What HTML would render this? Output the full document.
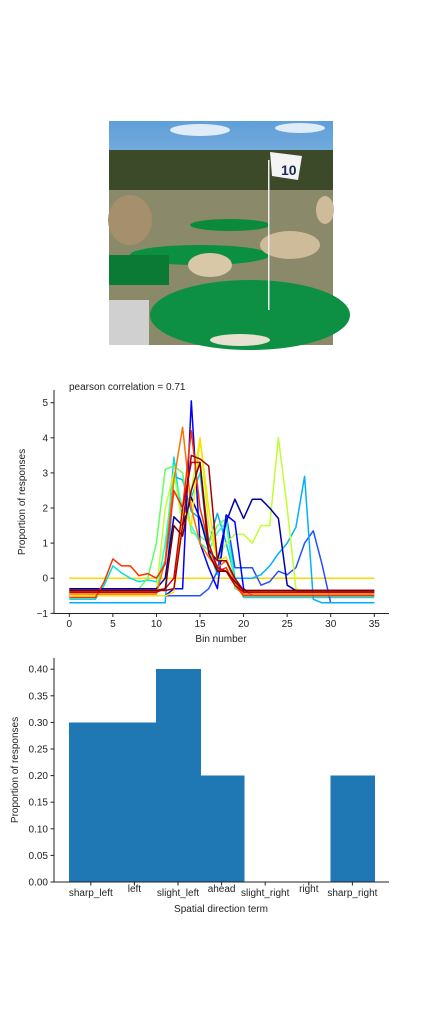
<!DOCTYPE html>
<html><head><meta charset="utf-8">
<style>
html,body{margin:0;padding:0;background:#fff;}
svg text{font-family:"Liberation Sans","DejaVu Sans",sans-serif;fill:#222;}
</style></head>
<body>
<svg id="root" width="432" height="1008" viewBox="0 0 432 1008" xmlns="http://www.w3.org/2000/svg">
<defs>
<linearGradient id="sky" x1="0" y1="0" x2="0" y2="1"><stop offset="0" stop-color="#5f9fd8"/><stop offset="1" stop-color="#eef4fa"/></linearGradient>
</defs>
<g>
<rect x="109" y="121" width="224" height="224" fill="url(#sky)"/>
<ellipse cx="200" cy="130" rx="30" ry="6" fill="#ffffff" opacity="0.8"/>
<ellipse cx="300" cy="128" rx="25" ry="5" fill="#ffffff" opacity="0.8"/>
<rect x="109" y="150" width="224" height="50" fill="#3c4a2a"/>
<rect x="109" y="190" width="224" height="155" fill="#8a8a6a"/>
<ellipse cx="230" cy="225" rx="40" ry="6" fill="#0a8a3a"/>
<ellipse cx="200" cy="255" rx="70" ry="10" fill="#0b8f40"/>
<rect x="109" y="255" width="60" height="30" fill="#0a7a35"/>
<ellipse cx="250" cy="315" rx="100" ry="35" fill="#0d9043"/>
<rect x="109" y="300" width="40" height="45" fill="#d0d0d0"/>
<ellipse cx="210" cy="265" rx="22" ry="12" fill="#d8c8a8"/>
<ellipse cx="290" cy="245" rx="30" ry="14" fill="#cdbb9a"/>
<ellipse cx="130" cy="220" rx="22" ry="25" fill="#a58f6c"/>
<ellipse cx="325" cy="210" rx="9" ry="14" fill="#cdbb9a"/>
<rect x="268" y="160" width="1.5" height="150" fill="#eee"/>
<polygon points="270,152 302,156 298,180 272,176" fill="#f4f4f4"/>
<text x="281" y="175" font-size="14" font-weight="bold" style="fill:#1a2a5a">10</text>
<ellipse cx="240" cy="340" rx="30" ry="6" fill="#e8e0d0"/>
</g>
<text x="69" y="390" font-size="10">pearson correlation = 0.71</text>
<g id="lineplot"></g>
<g id="barplot"></g>
</svg>
<script>
const bins = [0,5,10,15,20,25,30,35];
const yTicks1 = [-1,0,1,2,3,4,5];
const seriesColors = ["#ffd700","#00e0e0","#2050ff","#00b0ff","#60ff60","#30ffc0","#c0ff30","#0000a0","#0000ff","#ffe000","#ff7000","#ff3000","#d00000","#a00000","#800000"];
const S0 = [0,0,0,0,0,0,0,0,0,0,0,0,0,0,0,0,0,0,0,0,0,0,0,0,0,0,0,0,0,0,0,0,0,0,0,0];
const S1 = [-0.6,-0.6,-0.6,-0.6,-0.2,0.35,0.15,0,-0.1,-0.05,-0.1,0.5,3.45,1.5,2.3,3.0,0.8,0.1,1.7,0,-0.55,-0.55,-0.55,-0.55,-0.55,-0.55,-0.55,-0.55,-0.55,-0.55,-0.55,-0.55,-0.55,-0.55,-0.55,-0.55];
const S2 = [-0.5,-0.5,-0.5,-0.5,-0.5,-0.5,-0.5,-0.5,-0.5,-0.5,-0.5,-0.5,-0.5,-0.5,-0.5,-0.5,-0.3,0.2,1.8,0.3,0.3,0.3,-0.2,-0.1,0.2,0.1,0.3,1.0,1.35,0.4,-0.7,-0.7,-0.7,-0.7,-0.7,-0.7];
const S3 = [-0.7,-0.7,-0.7,-0.7,-0.7,-0.7,-0.7,-0.7,-0.7,-0.7,-0.7,-0.7,2.9,2.8,1.9,1.7,1.0,1.85,1.0,0,0,0,0.1,0.35,0.7,1.0,1.45,2.9,-0.6,-0.7,-0.7,-0.7,-0.7,-0.7,-0.7,-0.7];
const S4 = [-0.3,-0.3,-0.3,-0.3,-0.3,-0.3,-0.3,-0.3,-0.3,0,1.0,3.1,3.2,3.0,1.3,1.2,1.0,1.5,1.7,-0.3,-0.4,-0.4,-0.4,-0.4,-0.4,-0.4,-0.4,-0.4,-0.4,-0.4,-0.4,-0.4,-0.4,-0.4,-0.4,-0.4];
const S5 = [-0.45,-0.45,-0.45,-0.45,-0.45,-0.45,-0.45,-0.45,-0.45,-0.45,-0.45,1.0,3.0,2.0,1.5,1.0,0.8,1.3,1.6,-0.2,-0.45,-0.45,-0.45,-0.45,-0.45,-0.45,-0.45,-0.45,-0.45,-0.45,-0.45,-0.45,-0.45,-0.45,-0.45,-0.45];
const S6 = [-0.4,-0.4,-0.4,-0.4,-0.4,-0.4,-0.4,-0.4,-0.4,-0.4,-0.4,2.0,3.0,1.5,2.5,4.0,1.5,0.5,1.0,1.25,1.25,1.0,1.5,1.5,4.0,2.0,-0.3,-0.4,-0.4,-0.4,-0.4,-0.4,-0.4,-0.4,-0.4,-0.4];
const S7 = [-0.3,-0.3,-0.3,-0.3,-0.3,-0.3,-0.3,-0.3,-0.3,-0.3,-0.3,0,1.75,1.5,2.3,1.7,0.8,0.5,1.6,2.25,1.7,2.25,2.25,2.0,1.7,-0.2,-0.35,-0.35,-0.35,-0.35,-0.35,-0.35,-0.35,-0.35,-0.35,-0.35];
const S8 = [-0.5,-0.5,-0.5,-0.5,-0.5,-0.5,-0.5,-0.5,-0.5,-0.5,-0.5,-0.5,-0.3,-0.3,5.05,1.0,0.3,-0.3,1.8,1.6,-0.3,-0.5,-0.5,-0.5,-0.5,-0.5,-0.5,-0.5,-0.5,-0.5,-0.5,-0.5,-0.5,-0.5,-0.5,-0.5];
const S9 = [-0.5,-0.5,-0.5,-0.5,-0.5,-0.5,-0.5,-0.5,-0.5,-0.5,-0.5,-0.5,-0.4,2.0,1.5,4.0,2.0,0.5,0.6,-0.1,-0.5,-0.5,-0.5,-0.5,-0.5,-0.5,-0.5,-0.5,-0.5,-0.5,-0.5,-0.5,-0.5,-0.5,-0.5,-0.5];
const S10 = [-0.45,-0.45,-0.45,-0.45,-0.45,-0.45,-0.45,-0.45,-0.45,-0.45,-0.45,0.5,2.8,4.3,2.0,1.0,0.6,0.3,0.5,-0.1,-0.45,-0.45,-0.45,-0.45,-0.45,-0.45,-0.45,-0.45,-0.45,-0.45,-0.45,-0.45,-0.45,-0.45,-0.45,-0.45];
const S11 = [-0.55,-0.55,-0.55,-0.55,-0.1,0.55,0.35,0.35,0.07,0.13,0,0.4,2.5,2.0,4.2,2.0,1.0,0.2,0.3,-0.2,-0.5,-0.5,-0.5,-0.5,-0.5,-0.5,-0.5,-0.5,-0.5,-0.5,-0.5,-0.5,-0.5,-0.5,-0.5,-0.5];
const S12 = [-0.4,-0.4,-0.4,-0.4,-0.4,-0.4,-0.4,-0.4,-0.4,-0.4,-0.4,-0.3,0,2.0,3.3,3.3,1.0,0.3,0.2,-0.2,-0.4,-0.4,-0.4,-0.4,-0.4,-0.4,-0.4,-0.4,-0.4,-0.4,-0.4,-0.4,-0.4,-0.4,-0.4,-0.4];
const S13 = [-0.35,-0.35,-0.35,-0.35,-0.35,-0.35,-0.35,-0.35,-0.35,-0.35,-0.35,-0.35,-0.3,1.5,3.5,3.4,3.2,0.5,0.5,0,-0.35,-0.35,-0.35,-0.35,-0.35,-0.35,-0.35,-0.35,-0.35,-0.35,-0.35,-0.35,-0.35,-0.35,-0.35,-0.35];
const S14 = [-0.35,-0.35,-0.35,-0.35,-0.35,-0.35,-0.35,-0.35,-0.35,-0.35,-0.35,-0.3,1.5,1.2,2.5,3.3,0.7,0.2,0.2,-0.1,-0.35,-0.35,-0.35,-0.35,-0.35,-0.35,-0.35,-0.35,-0.35,-0.35,-0.35,-0.35,-0.35,-0.35,-0.35,-0.35];
const allSeries = [S0,S1,S2,S3,S4,S5,S6,S7,S8,S9,S10,S11,S12,S13,S14];

const categories = ["sharp_left","left","slight_left","ahead","slight_right","right","sharp_right"];
const proportions = [0.3,0.3,0.4,0.2,0,0,0.2];
const yTicks2 = [0,0.05,0.10,0.15,0.20,0.25,0.30,0.35,0.40];

const NS = "http://www.w3.org/2000/svg";
function mk(parent, tag, attrs){const e=document.createElementNS(NS,tag);for(const k in attrs)e.setAttribute(k,attrs[k]);parent.appendChild(e);return e;}

// line chart
const lp = document.getElementById('lineplot');
const X1 = v => 69.3 + v*8.714;
const Y1 = v => 578.2 - v*35.1;
allSeries.forEach((s,i)=>{
  const d = s.map((v,j)=>(j?'L':'M')+X1(j).toFixed(1)+','+Y1(v).toFixed(1)).join('');
  const p = mk(lp,'path',{d:d,fill:'none',stroke:seriesColors[i],'stroke-width':1.5,'stroke-linejoin':'round'});
  
  
});
let ax = mk(lp,'path',{d:'M54,390V613.5H389',fill:'none',stroke:'#222','stroke-width':1});


bins.forEach(b=>{
  mk(lp,'line',{x1:X1(b),x2:X1(b),y1:613.5,y2:617,stroke:'#222'});
  const t=mk(lp,'text',{x:X1(b),y:627,'font-size':10,'text-anchor':'middle'});t.textContent=b;
  
  
});
yTicks1.forEach(v=>{
  mk(lp,'line',{x1:50.5,x2:54,y1:Y1(v),y2:Y1(v),stroke:'#222'});
  const t=mk(lp,'text',{x:48,y:Y1(v)+3.5,'font-size':10,'text-anchor':'end'});t.textContent=(v<0?'\u2212'+(-v):v);
  
  
});
let xt=mk(lp,'text',{x:221,y:642,'font-size':10,'text-anchor':'middle'});xt.textContent='Bin number';


let yt=mk(lp,'text',{x:25,y:502,'font-size':10,'text-anchor':'middle',transform:'rotate(-90 25 502)'});yt.textContent='Proportion of responses';



// bar chart
const bp = document.getElementById('barplot');
const X2 = i => 69 + i*43.6;
const Y2 = v => 882 - v*532;
proportions.forEach((v,i)=>{
  const r=mk(bp,'rect',{x:X2(i),y:Y2(v),width:44.6,height:882-Y2(v),fill:'#1f77b4','shape-rendering':'crispEdges'});
  
  
});
let ax2 = mk(bp,'path',{d:'M54,658V882H389',fill:'none',stroke:'#222','stroke-width':1});


const labelY=[896,892,896,892,896,892,896];
categories.forEach((c,i)=>{
  const cx = X2(i)+21.8;
  mk(bp,'line',{x1:cx,x2:cx,y1:882,y2:885.5,stroke:'#222'});
  const t=mk(bp,'text',{x:cx,y:labelY[i],'font-size':10,'text-anchor':'middle'});t.textContent=c;
  
  
});
yTicks2.forEach(v=>{
  mk(bp,'line',{x1:50.5,x2:54,y1:Y2(v),y2:Y2(v),stroke:'#222'});
  const t=mk(bp,'text',{x:48,y:Y2(v)+3.5,'font-size':10,'text-anchor':'end'});t.textContent=v.toFixed(2);
  
  
});
let xt2=mk(bp,'text',{x:221,y:912,'font-size':10,'text-anchor':'middle'});xt2.textContent='Spatial direction term';


let yt2=mk(bp,'text',{x:18,y:770,'font-size':10,'text-anchor':'middle',transform:'rotate(-90 18 770)'});yt2.textContent='Proportion of responses';


</script>
</body></html>
